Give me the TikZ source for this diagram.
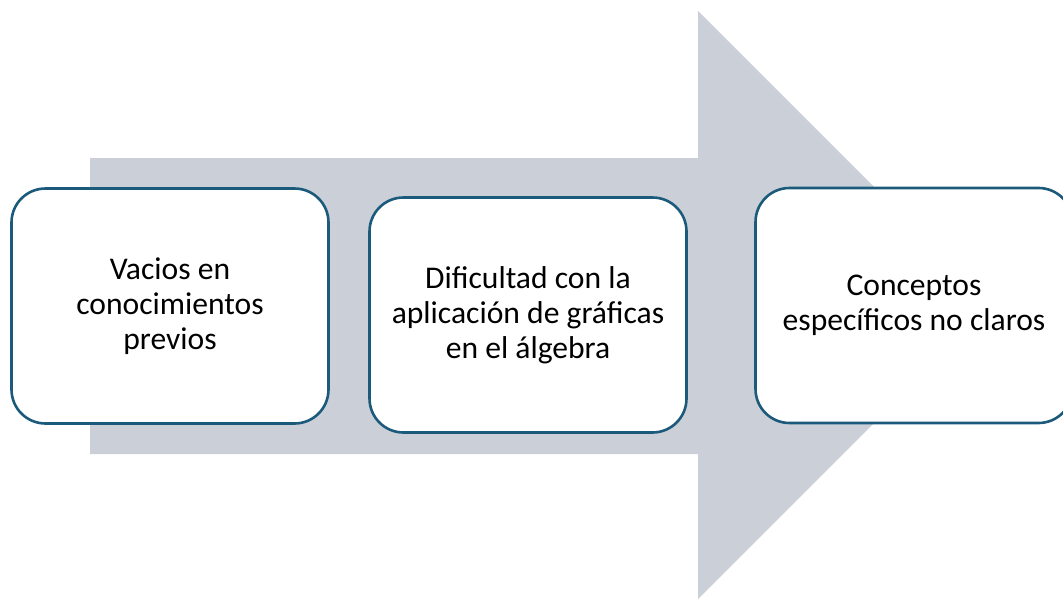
\documentclass[tikz,border=0pt]{standalone}
\usepackage{fontspec}
\setmainfont{Carlito}
\usepackage{tikz}
\usetikzlibrary{positioning}

\definecolor{arrowgray}{HTML}{CBD0D8}
\definecolor{boxblue}{HTML}{1C5A7C}

\tikzset{
	stagebox/.style={draw=boxblue, line width=1.3pt, fill=white, rounded corners=17pt,
		minimum width=158.5pt, minimum height=117.5pt, align=center, inner sep=0pt,
		font=\fontsize{15.8}{17.6}\selectfont},
}

\begin{document}
\begin{tikzpicture}[x=0.5pt,y=-0.5pt]
		
		\clip (0,0) rectangle (1063,599);
		\fill[arrowgray] (90,158) -- (698,158) -- (698,11) -- (992,305) -- (698,599) -- (698,454) -- (90,454) -- cycle;
		\node[stagebox] (vacios) at (170,306) {Vacios en\\conocimientos\\previos};
		\node[stagebox] (dificultad) at (528,315) {Dificultad con la\\aplicación de gráficas\\en el álgebra};
		\node[stagebox] (conceptos) at (914,305.5) {Conceptos\\específicos no claros};
		
		\end{tikzpicture}
\end{document}
